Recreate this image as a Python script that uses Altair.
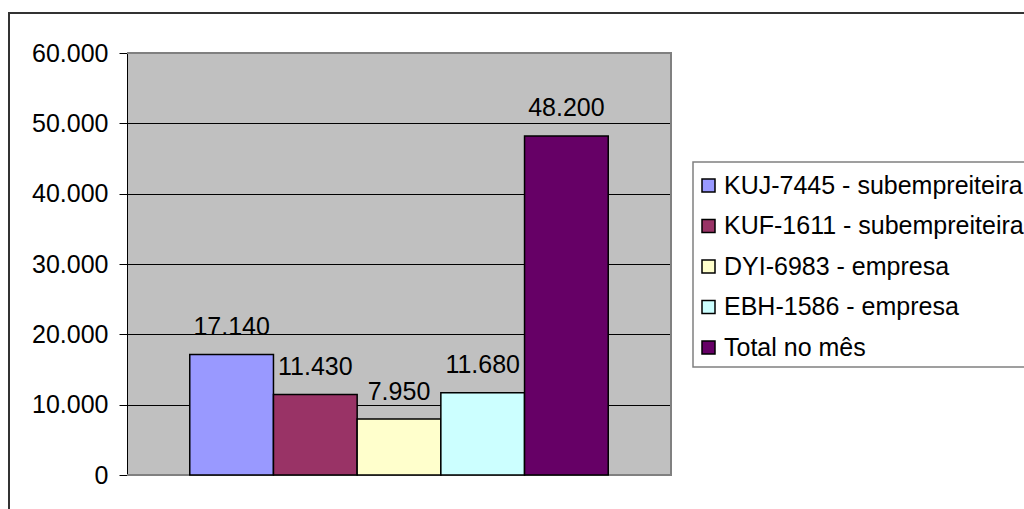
import altair as alt
import pandas as pd

series = ["KUJ-7445 - subempreiteira", "KUF-1611 - subempreiteira",
          "DYI-6983 - empresa", "EBH-1586 - empresa", "Total no mês"]
values = [17140, 11430, 7950, 11680, 48200]
colors = ["#9999FF", "#993366", "#FFFFCC", "#CCFFFF", "#660066"]
y_ticks = [0, 10000, 20000, 30000, 40000, 50000, 60000]

FONT = "Liberation Sans, Arial, sans-serif"
FS = 25
W, H = 544, 422

df = pd.DataFrame({"serie": series, "valor": values})
base = alt.Chart(df)

x_enc = alt.X("serie:N", sort=series, axis=None,
              scale=alt.Scale(paddingInner=0, paddingOuter=0.75))
y_enc = alt.Y("valor:Q",
              scale=alt.Scale(domain=[0, 60000], nice=False),
              axis=alt.Axis(values=y_ticks, title=None,
                            labelExpr="replace(format(datum.value, ','), ',', '.')",
                            domainColor="black", domainWidth=1,
                            tickColor="black", tickSize=8, tickWidth=1,
                            labelPadding=11, labelFont=FONT, labelFontSize=FS,
                            labelColor="black", grid=True, gridColor="black",
                            gridWidth=1, gridOpacity=1))

one = alt.Data(values=[{"k": 1}])

outer = alt.Chart(one).mark_rect(fill=None, stroke="#333333", strokeWidth=2).encode(
    x=alt.value(-118), x2=alt.value(1100), y=alt.value(-40), y2=alt.value(600))

legend_box = alt.Chart(one).mark_rect(fill="white", stroke="#808080", strokeWidth=1.5).encode(
    x=alt.value(566), x2=alt.value(1000), y=alt.value(109), y2=alt.value(314))

bottom_rule = alt.Chart(one).mark_rule(color="#808080", strokeWidth=2).encode(
    x=alt.value(0), x2=alt.value(W + 1), y=alt.value(H))

bars = base.mark_bar(stroke="black", strokeWidth=1.5, opacity=1).encode(
    x=x_enc, y=y_enc,
    color=alt.Color("serie:N", sort=series,
                    scale=alt.Scale(domain=series, range=colors),
                    legend=alt.Legend(title=None, orient="none",
                                      legendX=569, legendY=120,
                                      symbolType="square", symbolSize=169,
                                      symbolStrokeColor="black", symbolStrokeWidth=1.5,
                                      symbolOpacity=1,
                                      labelFont=FONT, labelFontSize=FS,
                                      labelColor="black", labelOffset=3,
                                      rowPadding=14.5, padding=0,
                                      labelLimit=500)))

labels = base.transform_calculate(
    lbl="replace(format(datum.valor, ','), ',', '.')"
).mark_text(font=FONT, fontSize=FS, color="black", baseline="alphabetic",
            align="center", dy=-19.5).encode(
    x=alt.X("serie:N", sort=series), y=alt.Y("valor:Q"), text="lbl:N")

top_rule = alt.Chart(one).mark_rule(color="#808080", strokeWidth=2).encode(
    x=alt.value(0), x2=alt.value(W + 1), y=alt.value(0))
right_rule = alt.Chart(one).mark_rule(color="#808080", strokeWidth=2).encode(
    x=alt.value(W), y=alt.value(0), y2=alt.value(H + 1))

chart = alt.layer(outer, legend_box, bottom_rule, bars, labels, top_rule, right_rule).properties(
    width=W, height=H,
    autosize=alt.AutoSizeParams(type="none"),
    padding={"left": 127, "top": 53, "right": 353, "bottom": 34},
    background="white",
).configure_view(fill="#C0C0C0", stroke=None)

chart.save("out.html", embed_options={"renderer": "svg", "actions": False})
